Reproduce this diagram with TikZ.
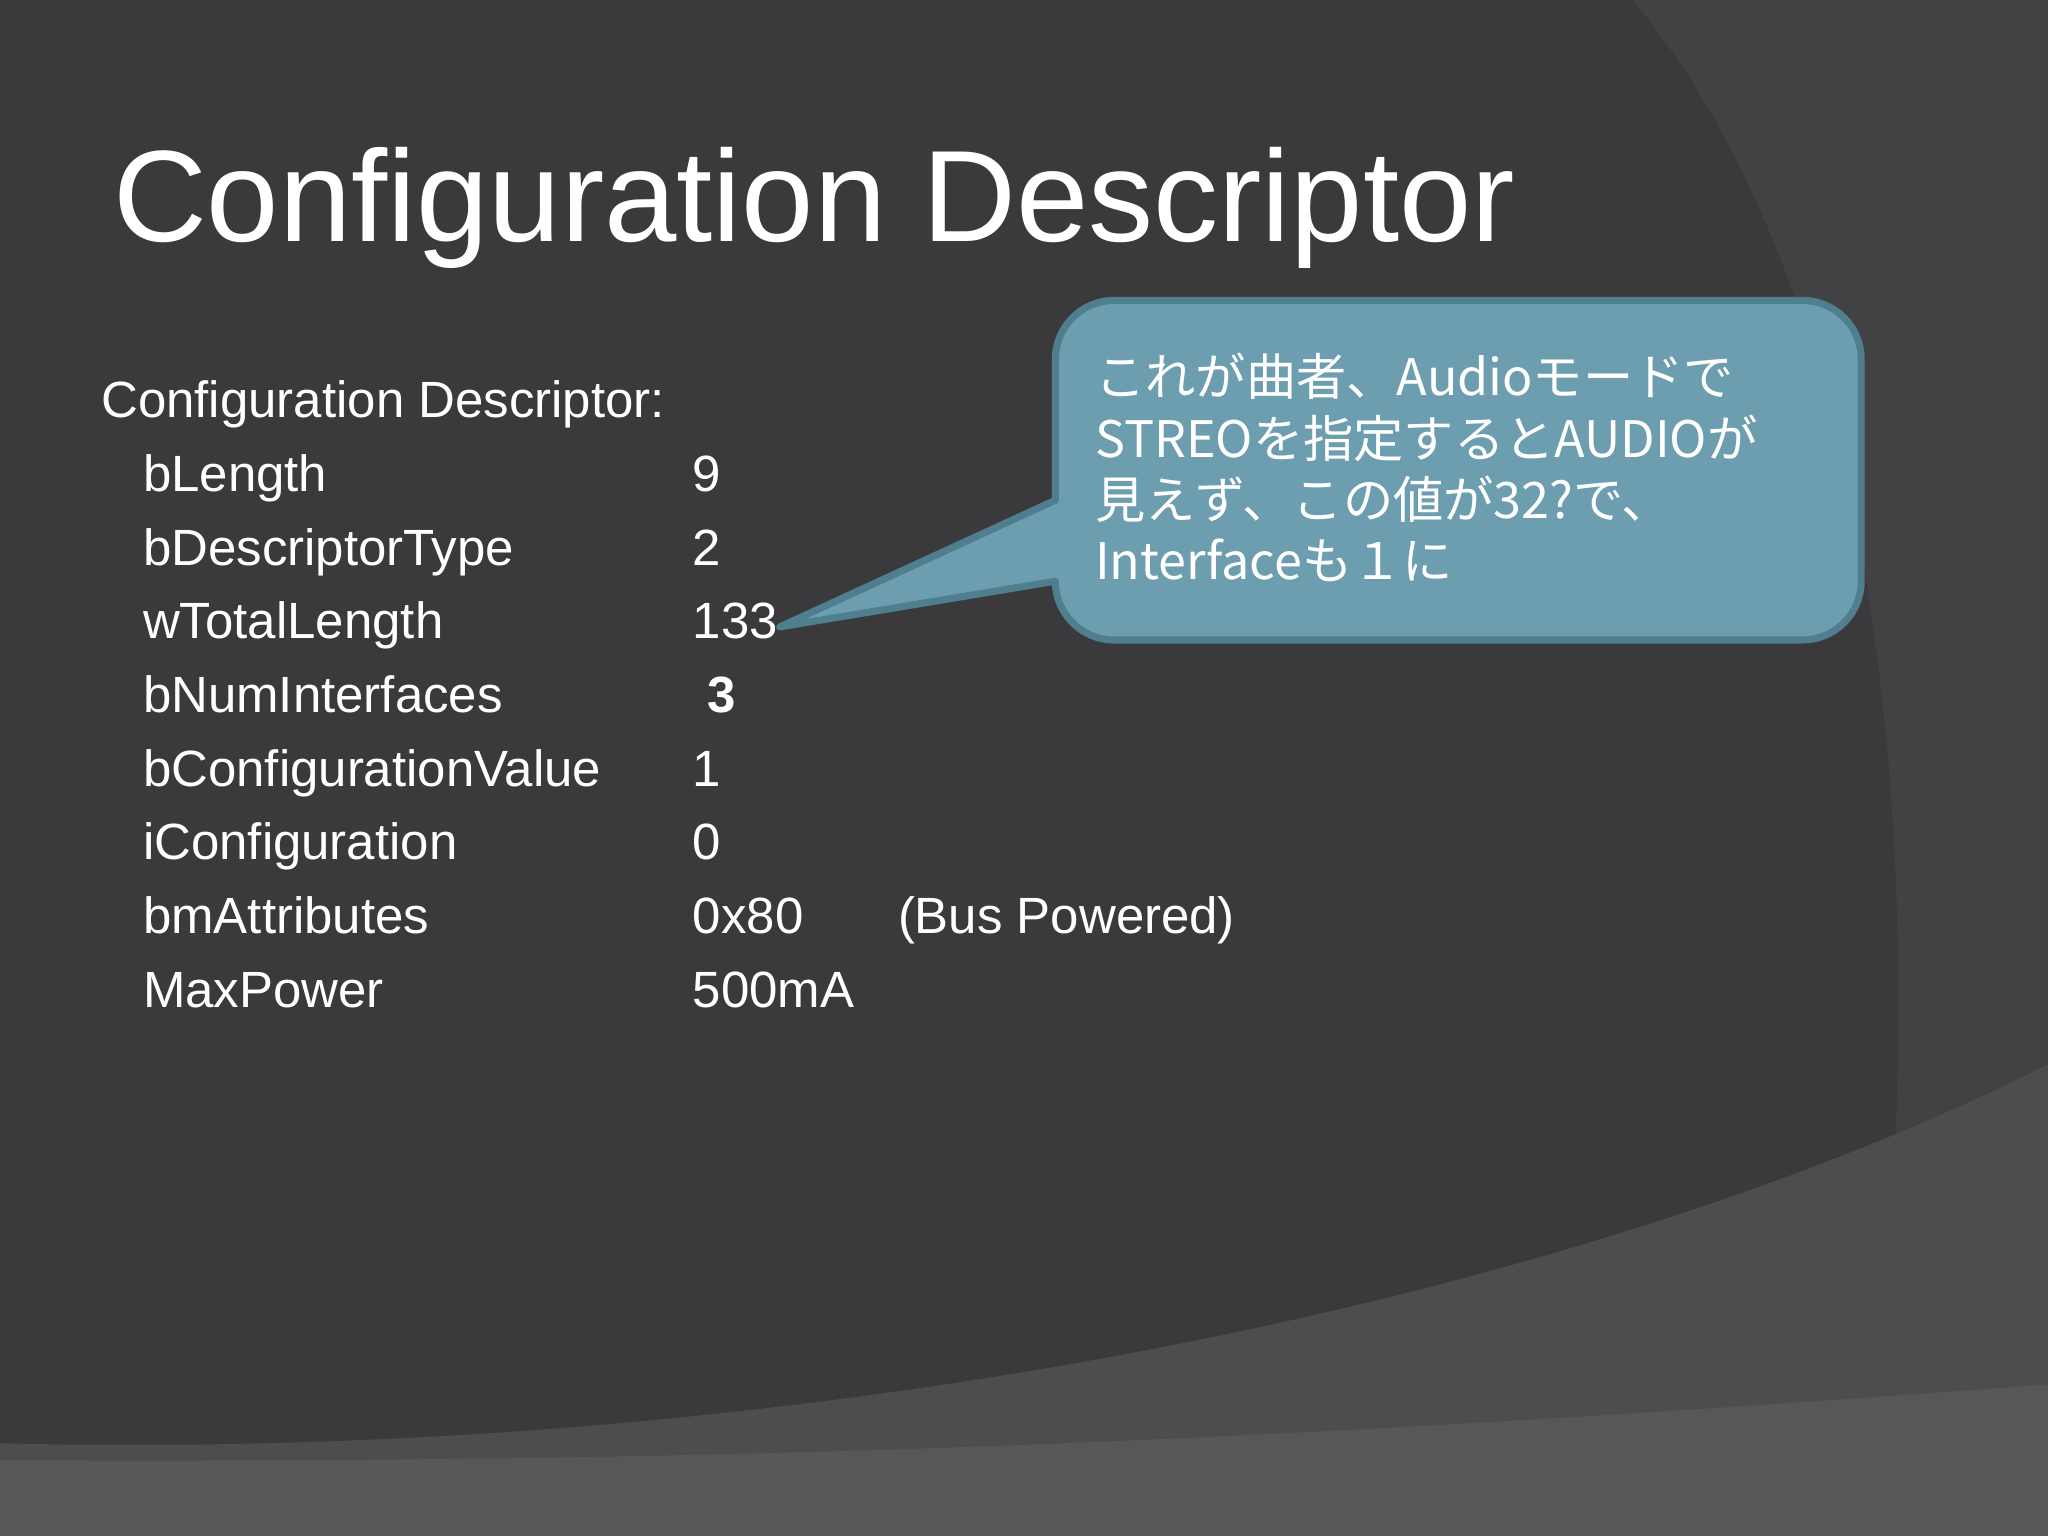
\documentclass[tikz,border=0pt]{standalone}
\usepackage{fontspec}
\setmainfont{Liberation Sans}
\newfontfamily\cjk{Noto Sans CJK JP}
\definecolor{bg}{HTML}{3A3A3C}
\definecolor{bgl}{HTML}{424244}
\definecolor{band}{HTML}{4D4D50}
\definecolor{callf}{HTML}{6D9EB0}
\definecolor{calld}{HTML}{4F7E8F}
\begin{document}
\begin{tikzpicture}[x=0.013061cm,y=-0.013061cm,
  body/.style={anchor=base west,inner sep=0,text=white,font=\fontsize{14.5}{16}\selectfont},
  ctext/.style={anchor=base west,inner sep=0,text=white,font=\cjk\fontsize{14.3}{16}\selectfont}]
\useasboundingbox (0,0) rectangle (1568,1176);
\fill[bg] (0,0) rectangle (1568,1176);
\fill[bgl] (1250,0) .. controls (1400,180) and (1470,500) .. (1450,900) -- (1568,900) -- (1568,0) -- cycle;
\fill[bgl] (1290,0) .. controls (1420,200) and (1500,500) .. (1470,820) -- (1568,820) -- (1568,0) -- cycle;
\fill[band] (0,1105) .. controls (600,1120) and (1200,1000) .. (1568,815) -- (1568,1176) -- (0,1176) -- cycle;
\fill[bg!85!white] (0,1118) .. controls (500,1120) and (900,1110) .. (1568,1060) -- (1568,1176) -- (0,1176) -- cycle;
\node[anchor=base west,inner sep=0,text=white,font=\fontsize{37}{42}\selectfont] (title) at (86,185) {Configuration Descriptor};
\node[body] (hdr) at (77,320) {Configuration Descriptor:};
\foreach \n/\l/\v [count=\i] in {a/bLength/9,b/bDescriptorType/2,c/wTotalLength/133,d/bNumInterfaces/{},e/bConfigurationValue/1,f/iConfiguration/0,g/bmAttributes/0x80,h/MaxPower/500mA}{
  \node[body] (l\n) at (109,320+56.4*\i) {\l};
  \node[body] (v\n) at (530,320+56.4*\i) {\v};
}
\node[body,font=\bfseries\fontsize{14.5}{16}\selectfont] (vd3) at (541,545.6) {3};
\node[body] (bus) at (687,714.8) {(Bus Powered)};
\coordinate (tip) at (597,480);
\filldraw[fill=callf,draw=calld,line width=2pt,line join=round]
  (853,230) -- (1380,230) arc[start angle=-90,end angle=0,radius=45] -- (1425,445)
  arc[start angle=0,end angle=90,radius=45] -- (853,490) arc[start angle=90,end angle=180,radius=45]
  -- (808,445) -- (tip) -- (808,383) -- (808,275) arc[start angle=180,end angle=270,radius=45] -- cycle;
\node[ctext] (c1) at (838,303) {これが曲者、Audioモードで};
\node[ctext] (c2) at (838,350) {STREOを指定するとAUDIOが};
\node[ctext] (c3) at (838,397) {見えず、この値が32?で、};
\node[ctext] (c4) at (838,444) {Interfaceも１に};
\end{tikzpicture}
\end{document}
